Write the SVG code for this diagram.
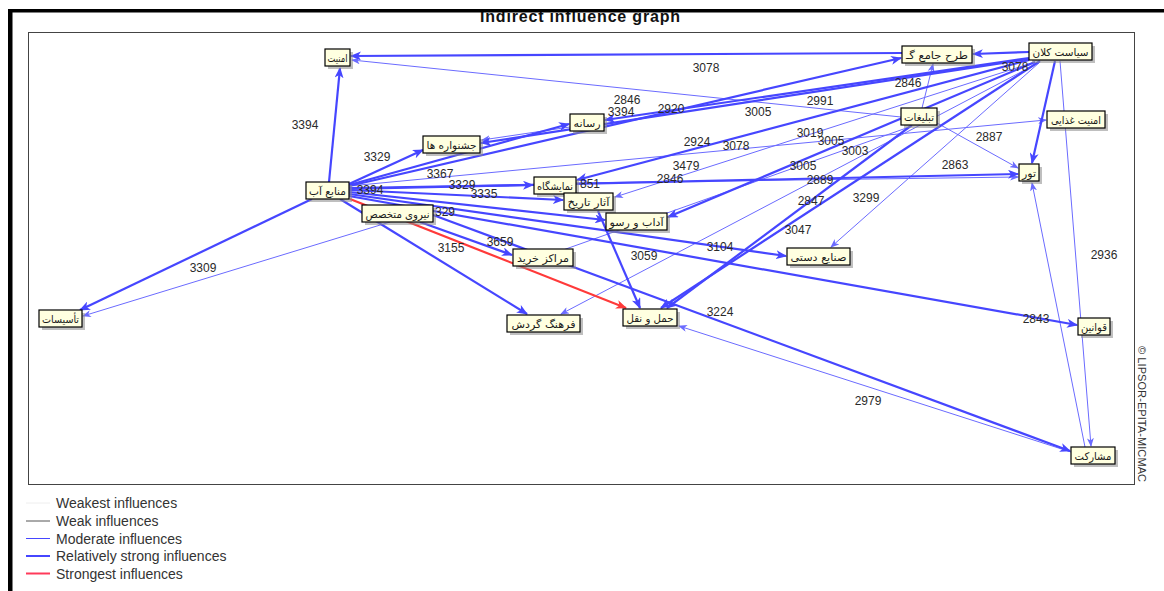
<svg xmlns="http://www.w3.org/2000/svg" width="1164" height="591" viewBox="0 0 1164 591">
<style>
.t{stroke:#4646ff;stroke-width:2.2;fill:none}
.m{stroke:#6b6bff;stroke-width:1;fill:none}
.r{stroke:#ff3a3a;stroke-width:2.2;fill:none}
.lbl{font-family:"Liberation Sans",Arial,sans-serif;font-size:12px;fill:#2a2a2a;text-anchor:middle}
.box{fill:#ffffe0;stroke:#000;stroke-width:1.2}
.sh{fill:#8a8a8a;opacity:0.55}
.nt{font-family:"DejaVu Sans","Noto Sans",sans-serif;font-size:10.5px;fill:#1a1a1a;text-anchor:middle}
.leg{font-family:"Liberation Sans",Arial,sans-serif;font-size:14px;fill:#333}
</style>
<defs>
<marker id="at" markerUnits="userSpaceOnUse" markerWidth="11" markerHeight="9" refX="10" refY="4.5" orient="auto"><path d="M0,0 L11,4.5 L0,9 L3,4.5 z" fill="#4646ff"/></marker>
<marker id="am" markerUnits="userSpaceOnUse" markerWidth="9" markerHeight="7" refX="8" refY="3.5" orient="auto"><path d="M0,0 L9,3.5 L0,7 L2.5,3.5 z" fill="#6b6bff"/></marker>
<marker id="ar" markerUnits="userSpaceOnUse" markerWidth="11" markerHeight="9" refX="10" refY="4.5" orient="auto"><path d="M0,0 L11,4.5 L0,9 L3,4.5 z" fill="#ff3a3a"/></marker>
</defs>
<rect width="1164" height="591" fill="#fff"/>
<text x="580" y="21.5" font-family="Liberation Sans,Arial,sans-serif" font-weight="bold" font-size="16" text-anchor="middle" fill="#111" textLength="200">Indirect influence graph</text>
<rect x="0" y="0" width="1164" height="9" fill="#fff"/>
<rect x="8" y="9" width="1156" height="3.5" fill="#000"/>
<rect x="8" y="9" width="4.5" height="582" fill="#000"/>
<rect x="28.5" y="32.5" width="1106" height="452" fill="#fff" stroke="#444" stroke-width="1"/>
<text transform="translate(1138,346) rotate(90)" font-family="Liberation Sans,Arial,sans-serif" font-size="11" fill="#333" textLength="136">© LIPSOR-EPITA-MICMAC</text>

<g id="connectors">
<line class="m" x1="901" y1="117" x2="352" y2="60" marker-end="url(#am)"/>
<line class="m" x1="937" y1="123" x2="1018" y2="168" marker-end="url(#am)"/>
<line class="m" x1="922" y1="108" x2="933" y2="64" marker-end="url(#am)"/>
<line class="m" x1="1060" y1="61" x2="1091" y2="446" marker-end="url(#am)"/>
<line class="m" x1="1085" y1="447" x2="1032" y2="183" marker-end="url(#am)"/>
<line class="m" x1="1071" y1="452" x2="679" y2="326" marker-end="url(#am)"/>
<line class="m" x1="1040" y1="62" x2="831" y2="247" marker-end="url(#am)"/>
<line class="m" x1="1040" y1="62" x2="561" y2="314" marker-end="url(#am)"/>
<line class="m" x1="570" y1="127" x2="482" y2="140" marker-end="url(#am)"/>
<line class="m" x1="1035" y1="62" x2="615" y2="197" marker-end="url(#am)"/>
<line class="m" x1="349" y1="186" x2="1046" y2="120" marker-end="url(#am)"/>
<line class="m" x1="563" y1="250" x2="912" y2="126"/>
<line class="m" x1="576" y1="183" x2="1018" y2="177" marker-end="url(#am)"/>
<line class="m" x1="390" y1="222" x2="83" y2="316" marker-end="url(#am)"/>
<line class="t" x1="329" y1="182" x2="340" y2="68" marker-end="url(#at)"/>
<line class="t" x1="349" y1="184" x2="423" y2="150" marker-end="url(#at)"/>
<line class="t" x1="312" y1="199" x2="80" y2="310" marker-end="url(#at)"/>
<line class="t" x1="349" y1="185" x2="569" y2="124" marker-end="url(#at)"/>
<line class="t" x1="349" y1="186" x2="901" y2="58" marker-end="url(#at)"/>
<line class="t" x1="349" y1="188" x2="533" y2="185" marker-end="url(#at)"/>
<line class="t" x1="349" y1="190" x2="563" y2="200" marker-end="url(#at)"/>
<line class="t" x1="349" y1="192" x2="605" y2="220" marker-end="url(#at)"/>
<line class="t" x1="349" y1="189" x2="1018" y2="174" marker-end="url(#at)"/>
<line class="t" x1="349" y1="194" x2="786" y2="256" marker-end="url(#at)"/>
<line class="t" x1="349" y1="196" x2="1077" y2="325" marker-end="url(#at)"/>
<line class="t" x1="340" y1="199" x2="527" y2="314" marker-end="url(#at)"/>
<line class="t" x1="420" y1="222" x2="512" y2="255" marker-end="url(#at)"/>
<line class="t" x1="433" y1="215" x2="1070" y2="451" marker-end="url(#at)"/>
<line class="t" x1="902" y1="53" x2="351" y2="56" marker-end="url(#at)"/>
<line class="t" x1="1029" y1="52" x2="973" y2="54" marker-end="url(#at)"/>
<line class="t" x1="1055" y1="61" x2="1032" y2="163" marker-end="url(#at)"/>
<line class="t" x1="1040" y1="61" x2="661" y2="308" marker-end="url(#at)"/>
<line class="t" x1="912" y1="125" x2="667" y2="308" marker-end="url(#at)"/>
<line class="t" x1="598" y1="211" x2="640" y2="308" marker-end="url(#at)"/>
<line class="t" x1="1029" y1="58" x2="605" y2="120" marker-end="url(#at)"/>
<line class="t" x1="1029" y1="59" x2="481" y2="143" marker-end="url(#at)"/>
<line class="t" x1="1029" y1="60" x2="577" y2="180" marker-end="url(#at)"/>
<line class="t" x1="1035" y1="62" x2="668" y2="217" marker-end="url(#at)"/>
<line class="r" x1="350" y1="199" x2="626" y2="308" marker-end="url(#ar)"/>
</g>

<g id="edge-labels">
<text class="lbl" x="305" y="129">3394</text>
<text class="lbl" x="377" y="161">3329</text>
<text class="lbl" x="370" y="194">3394</text>
<text class="lbl" x="440" y="178">3367</text>
<text class="lbl" x="462" y="189">3329</text>
<text class="lbl" x="484" y="198">3335</text>
<text class="lbl" x="445" y="216">329</text>
<text class="lbl" x="590" y="188">851</text>
<text class="lbl" x="627" y="104">2846</text>
<text class="lbl" x="621" y="116">3394</text>
<text class="lbl" x="671" y="113">2920</text>
<text class="lbl" x="758" y="116">3005</text>
<text class="lbl" x="820" y="105">2991</text>
<text class="lbl" x="908" y="87">2846</text>
<text class="lbl" x="1015" y="71">3078</text>
<text class="lbl" x="706" y="72">3078</text>
<text class="lbl" x="697" y="146">2924</text>
<text class="lbl" x="736" y="150">3078</text>
<text class="lbl" x="810" y="137">3019</text>
<text class="lbl" x="831" y="145">3005</text>
<text class="lbl" x="855" y="155">3003</text>
<text class="lbl" x="989" y="141">2887</text>
<text class="lbl" x="686" y="170">3479</text>
<text class="lbl" x="670" y="183">2846</text>
<text class="lbl" x="803" y="170">3005</text>
<text class="lbl" x="820" y="184">2889</text>
<text class="lbl" x="955" y="169">2863</text>
<text class="lbl" x="811" y="205">2847</text>
<text class="lbl" x="866" y="202">3299</text>
<text class="lbl" x="798" y="234">3047</text>
<text class="lbl" x="720" y="251">3104</text>
<text class="lbl" x="644" y="260">3059</text>
<text class="lbl" x="451" y="252">3155</text>
<text class="lbl" x="500" y="246">3659</text>
<text class="lbl" x="203" y="272">3309</text>
<text class="lbl" x="720" y="316">3224</text>
<text class="lbl" x="1104" y="259">2936</text>
<text class="lbl" x="1036" y="323">2843</text>
<text class="lbl" x="868" y="405">2979</text>
</g>

<g id="n-amniat"><rect class="sh" x="328" y="52" width="25" height="17"/><rect class="box" x="325" y="49" width="25" height="17"/><text class="nt" x="337.5" y="61.5" textLength="20" lengthAdjust="spacingAndGlyphs">امنیت</text></g>
<g id="n-tarh"><rect class="sh" x="905" y="49" width="70" height="17"/><rect class="box" x="902" y="46" width="70" height="17"/><text class="nt" x="937" y="58.5" textLength="62" lengthAdjust="spacingAndGlyphs">طرح جامع گـ</text></g>
<g id="n-siasat"><rect class="sh" x="1032" y="46" width="63" height="17"/><rect class="box" x="1029" y="43" width="63" height="17"/><text class="nt" x="1060.5" y="55.5" textLength="56" lengthAdjust="spacingAndGlyphs">سیاست کلان</text></g>
<g id="n-tablighat"><rect class="sh" x="904" y="111" width="36" height="17"/><rect class="box" x="901" y="108" width="36" height="17"/><text class="nt" x="919" y="120.5" textLength="30" lengthAdjust="spacingAndGlyphs">تبلیغات</text></g>
<g id="n-amniat-ghazaei"><rect class="sh" x="1050" y="114" width="58" height="17"/><rect class="box" x="1047" y="111" width="58" height="17"/><text class="nt" x="1076" y="123.5" textLength="50" lengthAdjust="spacingAndGlyphs">امنیت غذایی</text></g>
<g id="n-tour"><rect class="sh" x="1022" y="167" width="20" height="17"/><rect class="box" x="1019" y="164" width="20" height="17"/><text class="nt" x="1029" y="176.5" textLength="14" lengthAdjust="spacingAndGlyphs">تور</text></g>
<g id="n-resane"><rect class="sh" x="573" y="117" width="34" height="17"/><rect class="box" x="570" y="114" width="34" height="17"/><text class="nt" x="587" y="126.5" textLength="27" lengthAdjust="spacingAndGlyphs">رسانه</text></g>
<g id="n-jashnvare"><rect class="sh" x="426" y="139" width="57" height="17"/><rect class="box" x="423" y="136" width="57" height="17"/><text class="nt" x="451.5" y="148.5" textLength="50" lengthAdjust="spacingAndGlyphs">جشنواره ها</text></g>
<g id="n-manabe"><rect class="sh" x="309" y="185" width="43" height="17"/><rect class="box" x="306" y="182" width="43" height="17"/><text class="nt" x="327.5" y="194.5" textLength="37" lengthAdjust="spacingAndGlyphs">منابع آب</text></g>
<g id="n-namayeshgah"><rect class="sh" x="537" y="180" width="42" height="17"/><rect class="box" x="534" y="177" width="42" height="17"/><text class="nt" x="555" y="189.5" textLength="36" lengthAdjust="spacingAndGlyphs">نمایشگاه</text></g>
<g id="n-asar"><rect class="sh" x="567" y="196" width="49" height="17"/><rect class="box" x="564" y="193" width="49" height="17"/><text class="nt" x="588.5" y="205.5" textLength="42" lengthAdjust="spacingAndGlyphs">آثار تاریخ</text></g>
<g id="n-adab"><rect class="sh" x="609" y="216" width="61" height="17"/><rect class="box" x="606" y="213" width="61" height="17"/><text class="nt" x="636.5" y="225.5" textLength="54" lengthAdjust="spacingAndGlyphs">آداب و رسو</text></g>
<g id="n-niroo"><rect class="sh" x="365" y="208" width="71" height="17"/><rect class="box" x="362" y="205" width="71" height="17"/><text class="nt" x="397.5" y="217.5" textLength="64" lengthAdjust="spacingAndGlyphs">نیروی متخصص</text></g>
<g id="n-marakez"><rect class="sh" x="516" y="252" width="60" height="17"/><rect class="box" x="513" y="249" width="60" height="17"/><text class="nt" x="543" y="261.5" textLength="52" lengthAdjust="spacingAndGlyphs">مراکز خرید</text></g>
<g id="n-sanaye"><rect class="sh" x="790" y="251" width="63" height="17"/><rect class="box" x="787" y="248" width="63" height="17"/><text class="nt" x="818.5" y="260.5" textLength="56" lengthAdjust="spacingAndGlyphs">صنایع دستی</text></g>
<g id="n-farhang"><rect class="sh" x="510" y="318" width="73" height="17"/><rect class="box" x="507" y="315" width="73" height="17"/><text class="nt" x="543.5" y="327.5" textLength="64" lengthAdjust="spacingAndGlyphs">فرهنگ گردش</text></g>
<g id="n-haml"><rect class="sh" x="626" y="312" width="54" height="17"/><rect class="box" x="623" y="309" width="54" height="17"/><text class="nt" x="650" y="321.5" textLength="47" lengthAdjust="spacingAndGlyphs">حمل و نقل</text></g>
<g id="n-ghavanin"><rect class="sh" x="1081" y="321" width="32" height="17"/><rect class="box" x="1078" y="318" width="32" height="17"/><text class="nt" x="1094" y="330.5" textLength="26" lengthAdjust="spacingAndGlyphs">قوانین</text></g>
<g id="n-mosharekat"><rect class="sh" x="1074" y="450" width="44" height="17"/><rect class="box" x="1071" y="447" width="44" height="17"/><text class="nt" x="1093" y="459.5" textLength="37" lengthAdjust="spacingAndGlyphs">مشارکت</text></g>
<g id="n-tasisat"><rect class="sh" x="42" y="313" width="43" height="17"/><rect class="box" x="39" y="310" width="43" height="17"/><text class="nt" x="60.5" y="322.5" textLength="37" lengthAdjust="spacingAndGlyphs">تأسیسات</text></g>

<g id="legend">
<line x1="26" y1="503" x2="50" y2="503" stroke="#eeeeee" stroke-width="1"/>
<line x1="26" y1="521" x2="50" y2="521" stroke="#555" stroke-width="1"/>
<line x1="26" y1="538.5" x2="50" y2="538.5" stroke="#4646ff" stroke-width="1"/>
<line x1="26" y1="556" x2="50" y2="556" stroke="#4646ff" stroke-width="2"/>
<line x1="26" y1="573.5" x2="50" y2="573.5" stroke="#ff3a5a" stroke-width="2"/>
<text class="leg" x="56" y="508">Weakest influences</text>
<text class="leg" x="56" y="526">Weak influences</text>
<text class="leg" x="56" y="543.5">Moderate influences</text>
<text class="leg" x="56" y="561">Relatively strong influences</text>
<text class="leg" x="56" y="578.5">Strongest influences</text>
</g>
</svg>
